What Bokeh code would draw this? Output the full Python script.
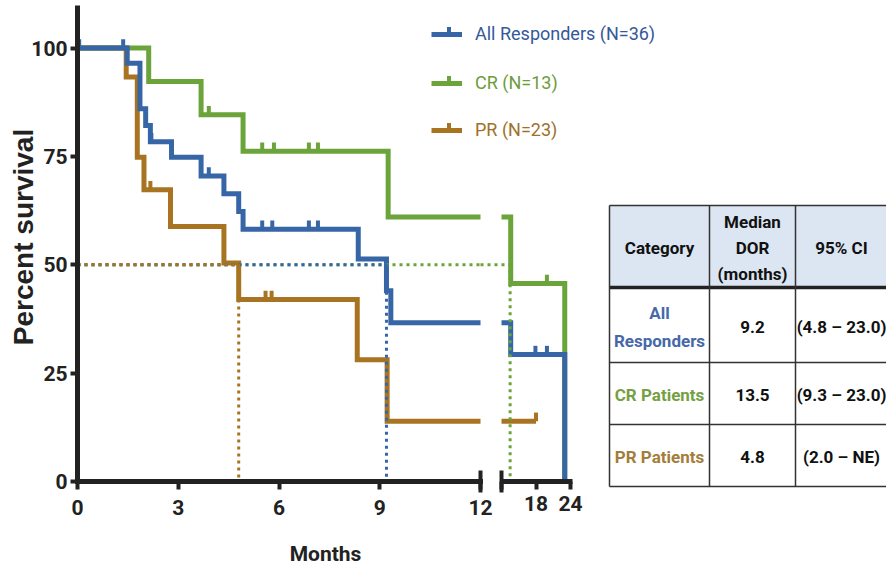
import math
from bokeh.plotting import figure
from bokeh.models import (Range1d, LinearAxis, FixedTicker, Legend, LegendItem,
                          ColumnDataSource)
from bokeh.core.properties import value
from bokeh.embed import file_html
from bokeh.resources import INLINE

# ---------------- data ----------------
early_ticks = [0, 3, 6, 9, 12]
late_ticks = [12, 18, 24]
y_ticks = [0, 25, 50, 75, 100]

all_t = [0, 1.48, 1.86, 2.03, 2.17, 2.80, 3.68, 4.36, 4.80, 4.93, 8.36, 9.20, 9.33, 13.6, 23.0]
all_s = [100, 96.5, 86.0, 82.1, 78.4, 74.8, 70.5, 66.4, 62.3, 58.2, 51.3, 44.0, 36.6, 29.3, 0]
all_cens = [0.05, 1.36, 2.2, 3.91, 5.5, 5.8, 6.89, 7.16, 17.9, 19.9]

cr_t = [0, 2.12, 3.68, 4.93, 9.25, 13.6, 23.0]
cr_s = [100, 92.3, 84.6, 76.2, 61.0, 45.7, 0]
cr_cens = [3.91, 5.5, 5.85, 6.89, 7.16, 19.9]

pr_t = [0, 1.45, 1.78, 1.98, 2.77, 4.36, 4.80, 8.33, 9.22, 18.0]
pr_s = [100, 93.3, 74.8, 67.3, 58.8, 50.4, 42.0, 28.1, 13.9, 13.9]
pr_cens = [2.17, 5.6, 5.78, 18.0]

series_labels = ["All Responders (N=36)", "CR (N=13)", "PR (N=23)"]
median_level = 50
medians = [9.2, 13.5, 4.8]

x_title = "Months"
y_title = "Percent survival"
table_header = ["Category", "Median\nDOR\n(months)", "95% CI"]
table_category = ["All\nResponders", "CR Patients", "PR Patients"]
table_median = ["9.2", "13.5", "4.8"]
table_ci = ["(4.8 \u2013 23.0)", "(9.3 \u2013 23.0)", "(2.0 \u2013 NE)"]

# ---------------- layout / style ----------------
W, H = 886, 566
X0, Y0 = 77, 481                 # pixel of t=0 / survival=0
X_BRK_L, X_BRK_R, X_24 = 480, 501, 570
Y_100, Y_TOP = 47.5, 5
BREAK = 12

BLUE, GREEN, BROWN = "#3666a6", "#6ba43a", "#a87422"
LEG_COL = ["#34589a", "#6d9c3c", "#a0702a"]
TAB_COL = ["#4668a8", "#75a043", "#a47d3a"]
AXIS = "#222222"
NARROW = "'Liberation Sans Narrow', 'Noto Sans Condensed', Roboto, sans-serif"
WIDE = "'Liberation Sans', Arial, sans-serif"

early_scale = (X_BRK_L - X0) / BREAK
late_scale = (X_24 - X_BRK_R) / 12.0
y_scale = (Y0 - Y_100) / 100.0

p = figure(width=W, height=H,
           x_range=Range1d(-X0 / early_scale, (W - X0) / early_scale),
           y_range=Range1d(-(H - Y0) / y_scale, Y0 / y_scale),
           output_backend="svg", toolbar_location=None,
           min_border=0, min_border_left=0, min_border_right=0,
           min_border_top=0, min_border_bottom=0)
p.extra_x_ranges = {"late": Range1d(BREAK - X_BRK_R / late_scale,
                                    BREAK + (W - X_BRK_R) / late_scale),
                    "tx": Range1d(0, W)}
p.extra_y_ranges = {"ty": Range1d(H, 0)}
p.outline_line_color = None
p.xgrid.visible = False
p.ygrid.visible = False
p.background_fill_color = "white"
p.border_fill_color = "white"


def style_axis(ax, tick_out, standoff):
    ax.axis_line_width = 5
    ax.axis_line_color = AXIS
    ax.major_tick_out = tick_out
    ax.major_tick_in = 0
    ax.major_tick_line_width = 4
    ax.major_tick_line_color = AXIS
    ax.minor_tick_line_color = None
    ax.major_label_text_font = NARROW
    ax.major_label_text_font_style = "bold"
    ax.major_label_text_font_size = "21px"
    ax.major_label_text_color = AXIS
    ax.major_label_standoff = standoff
    ax.fixed_location = 0


xa = p.xaxis[0]
xa.ticker = FixedTicker(ticks=early_ticks)
xa.bounds = (0, BREAK)
style_axis(xa, 8, 10)
xa.axis_line_cap = "square"

la = LinearAxis(x_range_name="late", ticker=FixedTicker(ticks=late_ticks),
                bounds=(BREAK, 24.3), major_label_overrides={12: ""})
style_axis(la, 8, 6)
p.add_layout(la, "below")

ya = p.yaxis[0]
ya.ticker = FixedTicker(ticks=y_ticks)
ya.bounds = (0, (Y0 - Y_TOP) / y_scale)
style_axis(ya, 7, 3)

tkw = dict(x_range_name="tx", y_range_name="ty")

# axis titles
p.text(x=[325], y=[553], text=[x_title], text_align="center", text_baseline="middle",
       text_font=value(NARROW), text_font_style="bold", text_font_size="21px",
       text_color=AXIS, **tkw)
p.text(x=[22.5], y=[236.5], text=[y_title], angle=math.pi / 2, text_align="center",
       text_baseline="middle", text_font=value(WIDE), text_font_style="bold",
       text_font_size="28px", text_color=AXIS, **tkw)

# break caps
CAP_H = (492 - Y0) / y_scale
for rn in ["default", "late"]:
    p.segment(x0=[BREAK], x1=[BREAK], y0=[-CAP_H], y1=[CAP_H], line_width=4,
              line_color=AXIS, x_range_name=rn)


def surv_at(ts, ss, t):
    v = ss[0]
    for ti, si in zip(ts, ss):
        if ti <= t:
            v = si
    return v


def split_curve(ts, ss):
    sb = surv_at(ts, ss, BREAK)
    ex = [t for t in ts if t < BREAK] + [BREAK]
    ey = [s for t, s in zip(ts, ss) if t < BREAK] + [sb]
    lx = [BREAK] + [t for t in ts if t > BREAK]
    ly = [sb] + [s for t, s in zip(ts, ss) if t > BREAK]
    return ex, ey, lx, ly


CENSOR_H = 2.0
curves = [(cr_t, cr_s, cr_cens, GREEN), (pr_t, pr_s, pr_cens, BROWN),
          (all_t, all_s, all_cens, BLUE)]
early_r = {}
for ts, ss, cens, col in curves:
    ex, ey, lx, ly = split_curve(ts, ss)
    r = p.step(ex, ey, mode="after", line_width=5, line_color=col, line_join="miter")
    p.step(lx, ly, mode="after", line_width=5, line_color=col, line_join="miter",
           x_range_name="late")
    early_r[col] = r
    for rn, sel in [("default", lambda t: t < BREAK), ("late", lambda t: t >= BREAK)]:
        ct = [t for t in cens if sel(t)]
        cs = [surv_at(ts, ss, t) for t in ct]
        if ct:
            p.segment(x0=ct, x1=ct, y0=cs, y1=[s + CENSOR_H for s in cs],
                      line_width=4, line_color=col, x_range_name=rn)

# median dotted lines (green below, then blue, then brown)
gap_start = BREAK - (X_BRK_R - X_BRK_L) / late_scale
for med, col in [(medians[1], GREEN), (medians[0], BLUE), (medians[2], BROWN)]:
    kw = dict(line_width=3, line_color=col, line_dash="3 4")
    if med <= BREAK:
        p.line([0, med, med], [median_level, median_level, 0], **kw)
    else:
        p.line([0, BREAK], [median_level, median_level], **kw)
        p.line([gap_start, med, med], [median_level, median_level, 0],
               x_range_name="late", **kw)

# legends (one per series so each label has its own colour)
LEG_X, LEG_GW = 431, 31
leg_bottom_px = [44, 93, 140]
for lab, col, lcol, yb in zip(series_labels, [BLUE, GREEN, BROWN], LEG_COL, leg_bottom_px):
    lg = Legend(items=[LegendItem(label=lab, renderers=[early_r[col]])],
                location=(LEG_X, H - yb), padding=0, margin=0, spacing=0,
                glyph_width=LEG_GW, glyph_height=20, label_standoff=13,
                label_text_font=NARROW, label_text_font_size="18px",
                label_text_color=lcol, border_line_alpha=0,
                background_fill_alpha=0)
    p.add_layout(lg)
# small censor tick on each legend sample line
leg_cy = [yb - 10.5 for yb in leg_bottom_px]
p.segment(x0=[LEG_X + LEG_GW / 2 + 2] * 3, x1=[LEG_X + LEG_GW / 2 + 2] * 3,
          y0=leg_cy, y1=[c - 7 for c in leg_cy], line_width=4,
          line_color=[BLUE, GREEN, BROWN], **tkw)

# ---------------- table ----------------
TX = [609, 709, 795, 890]
TY = [205, 287, 362, 424, 486]
p.quad(left=[TX[0]], right=[TX[-1]], top=[TY[0]], bottom=[TY[1]],
       fill_color="#dce6f2", line_color=None, **tkw)
p.segment(x0=[TX[0]] * 4, x1=[TX[-1]] * 4, y0=[TY[0], TY[2], TY[3], TY[4]],
          y1=[TY[0], TY[2], TY[3], TY[4]], line_width=1.5, line_color="#333333", **tkw)
p.segment(x0=[TX[0]], x1=[TX[-1]], y0=[TY[1]], y1=[TY[1]], line_width=3.5,
          line_color="#222222", **tkw)
p.segment(x0=TX[:3], x1=TX[:3], y0=[TY[0]] * 3, y1=[TY[-1]] * 3, line_width=1.5,
          line_color="#333333", **tkw)

col_c = [659, 752, 841]
head_y = 247
row_y = [326, 394, 456]
hsrc = ColumnDataSource(dict(x=col_c, y=[head_y] * 3, text=table_header))
p.text(x="x", y="y", text="text", source=hsrc, text_align="center",
       text_baseline="middle", text_font=value(NARROW), text_font_style="bold",
       text_font_size="17px", text_color="#111111", text_line_height=1.3, **tkw)
bsrc = ColumnDataSource(dict(
    x=[col_c[0]] * 3 + [col_c[1]] * 3 + [col_c[2]] * 3,
    y=row_y * 3,
    text=table_category + table_median + table_ci,
    color=TAB_COL + ["#111111"] * 6))
p.text(x="x", y="y", text="text", source=bsrc, text_align="center",
       text_baseline="middle", text_font=value(NARROW), text_font_style="bold",
       text_font_size="17px", text_color="color", text_line_height=1.4, **tkw)

open("out.html", "w").write(file_html(p, INLINE))
